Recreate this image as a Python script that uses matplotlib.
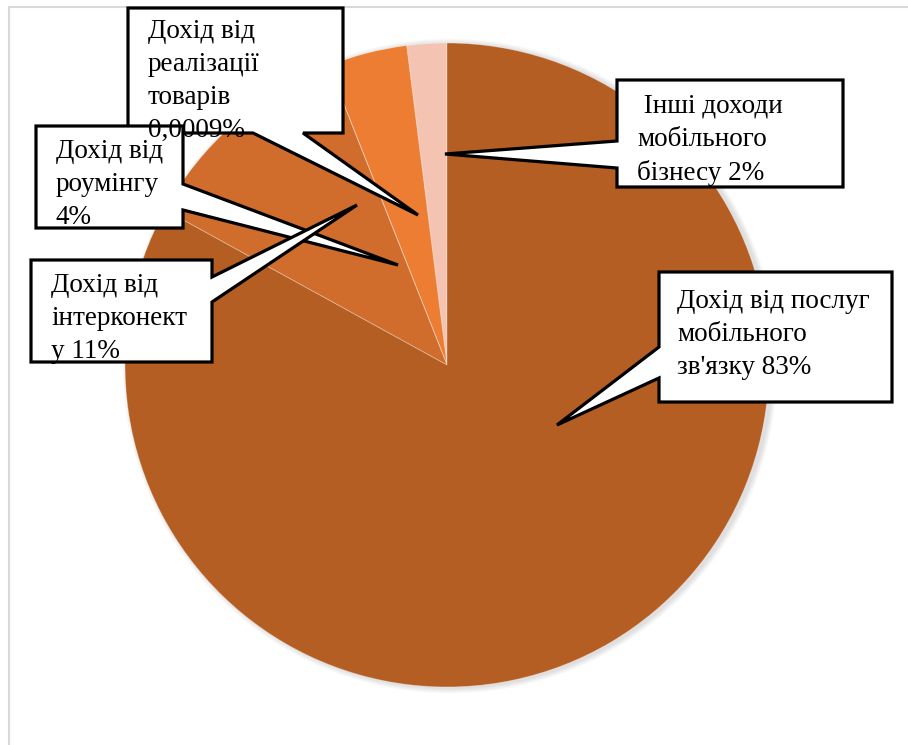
import matplotlib
matplotlib.use('Agg')
import matplotlib.pyplot as plt
from matplotlib.patches import Polygon, Circle
from matplotlib.lines import Line2D

W, H = 908, 745

# дані (проти годинникової стрілки від 12 години)
labels = [' Інші доходи\nмобільного\nбізнесу 2%',
          'Дохід від\nроумінгу\n4%',
          'Дохід від\nреалізації\nтоварів\n0,0009%',
          'Дохід від\nінтерконект\nу 11%',
          'Дохід від послуг\nмобільного\nзв\'язку 83%']
values = [2, 4, 0.0009, 11, 83]
colors = ['#F4C3B1', '#EC7D32', '#EC7D32', '#D06D2C', '#B45E23']

# підписи-виноски: прямокутник (x0, y0, x1, y1), край, точки основи, вістря, позиція тексту
callouts = [
    # goods
    dict(box=(128, 8, 343, 133), edge='bottom', base=[(303, 133), (253, 133)], tip=(418, 215), txt=(148, 23), idx=2),
    # roaming
    dict(box=(36, 126, 183, 228), edge='right', base=[(183, 184), (183, 210)], tip=(398, 265), txt=(56, 143), idx=1),
    # interconnect
    dict(box=(31, 260, 212, 362), edge='right', base=[(212, 277), (212, 302)], tip=(357, 205), txt=(51, 277), idx=3),
    # other
    dict(box=(617, 80, 843, 187), edge='left', base=[(617, 168), (617, 141)], tip=(445, 154), txt=(637, 98), idx=0),
    # main
    dict(box=(659, 272, 892, 402), edge='left', base=[(659, 378), (659, 347)], tip=(557, 425), txt=(677, 293), idx=4),
]

cx, cy, R = 447, 365, 322


def Y(y):
    return H - y


def callout_poly(box, edge, base, tip):
    x0, y0, x1, y1 = box
    pts = [(x0, y0), (x1, y0)]
    if edge == 'right':
        pts += [base[0], tip, base[1]]
    pts += [(x1, y1)]
    if edge == 'bottom':
        pts += [base[0], tip, base[1]]
    pts += [(x0, y1)]
    if edge == 'left':
        pts += [base[0], tip, base[1]]
    return [(x, Y(y)) for x, y in pts]


fig = plt.figure(figsize=(W / 100, H / 100), dpi=100)
ax = fig.add_axes([0, 0, 1, 1])

# рамка області (видно лише ліву та верхню межі)
ax.add_line(Line2D([8.5, 8.5], [0, Y(6.5)], color='#D9D9D9', lw=1.5))
ax.add_line(Line2D([8.5, W], [Y(6.5), Y(6.5)], color='#D9D9D9', lw=1.5))

# тінь діаграми
for k in range(8, 0, -1):
    ax.add_patch(Circle((cx + 3, Y(cy) - 1), R + k * 0.7, color='#000000', alpha=0.015, lw=0))

ax.pie(values, colors=colors, startangle=90, counterclock=True,
       center=(cx, Y(cy)), radius=R, frame=True,
       wedgeprops=dict(linewidth=0.6, edgecolor=(1, 1, 1, 0.35)))
ax.set_xlim(0, W)
ax.set_ylim(0, H)
ax.set_aspect('auto')
ax.axis('off')

for c in callouts:
    poly = Polygon(callout_poly(c['box'], c['edge'], c['base'], c['tip']), closed=True,
                   facecolor='white', edgecolor='black', lw=2.3, joinstyle='miter', zorder=5)
    ax.add_patch(poly)
    t = ax.text(c['txt'][0], Y(c['txt'][1]) + 4, labels[c['idx']], fontsize=19.5,
                family='Liberation Serif', va='top', ha='left', linespacing=1.42, zorder=6)
    x0, y0, x1, y1 = c['box']
    clip = Polygon([(x0, Y(y0)), (x1, Y(y0)), (x1, Y(y1)), (x0, Y(y1))], closed=True,
                   transform=ax.transData)
    t.set_clip_path(clip)

fig.savefig('out.png', dpi=100)
